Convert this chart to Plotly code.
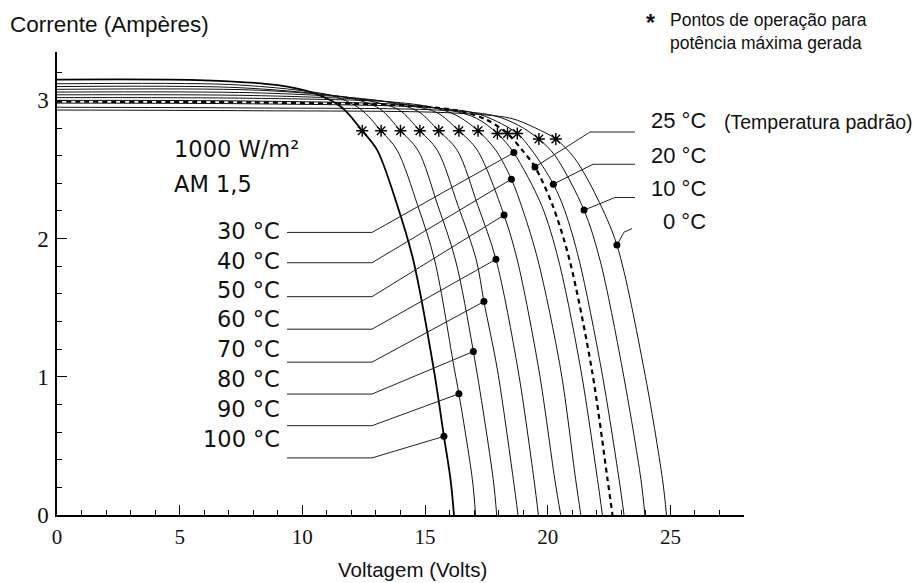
import plotly.graph_objects as go

# ---------------- data ----------------
temps = [100, 90, 80, 70, 60, 50, 40, 30, 25, 20, 10, 0]

V_100 = [0, 6, 9, 10.5, 11.6, 12.44, 13.05, 13.87, 14.52, 15.36, 15.77, 16.04, 16.18]
I_100 = [3.15, 3.145, 3.11, 3.05, 2.95, 2.78, 2.64, 2.24, 1.845, 1.05, 0.569, 0.256, 0]

V_90 = [0, 7, 10, 11.3, 12.35, 13.21, 13.86, 14.70, 15.39, 16.20, 16.38, 16.93, 17.06]
I_90 = [3.12, 3.115, 3.07, 3.03, 2.94, 2.78, 2.64, 2.24, 1.845, 1.05, 0.877, 0.256, 0]

V_80 = [0, 7, 10.5, 12.1, 13.15, 14.0, 14.71, 15.52, 16.24, 16.97, 17.78, 17.92]
I_80 = [3.10, 3.095, 3.05, 3.01, 2.94, 2.78, 2.64, 2.24, 1.845, 1.183, 0.256, 0]

V_70 = [0, 8, 11.5, 12.9, 13.95, 14.79, 15.5, 16.34, 17.09, 17.40, 17.95, 18.60, 18.79]
I_70 = [3.08, 3.075, 3.03, 2.99, 2.93, 2.78, 2.64, 2.24, 1.845, 1.544, 1.05, 0.256, 0]

V_60 = [0, 8, 12, 13.7, 14.72, 15.56, 16.31, 17.15, 17.89, 18.79, 19.44, 19.62]
I_60 = [3.06, 3.055, 3.02, 2.98, 2.92, 2.78, 2.64, 2.24, 1.85, 1.05, 0.256, 0]

V_50 = [0, 8, 13, 14.5, 15.5, 16.38, 17.13, 18.22, 18.76, 19.64, 20.29, 20.53]
I_50 = [3.04, 3.035, 3.0, 2.96, 2.91, 2.78, 2.64, 2.17, 1.845, 1.05, 0.256, 0]

V_40 = [0, 8, 13.5, 15.3, 16.3, 17.16, 17.88, 18.52, 19.0, 19.60, 20.53, 21.14, 21.35]
I_40 = [3.02, 3.015, 2.99, 2.95, 2.89, 2.78, 2.64, 2.43, 2.2, 1.845, 1.05, 0.256, 0]

V_30 = [0, 8, 14, 16, 17.1, 17.95, 18.62, 19.75, 20.44, 21.35, 22.03, 22.23]
I_30 = [3.00, 2.995, 2.97, 2.93, 2.87, 2.76, 2.62, 2.24, 1.845, 1.05, 0.256, 0]

V_25 = [0, 8, 14.5, 16.5, 17.5, 18.36, 18.96, 19.48, 20.2, 20.89, 21.80, 22.44, 22.64]
I_25 = [2.99, 2.985, 2.96, 2.92, 2.86, 2.76, 2.64, 2.518, 2.24, 1.845, 1.05, 0.256, 0]

V_20 = [0, 8, 15, 17, 17.9, 18.76, 19.35, 20.23, 20.7, 21.28, 22.19, 22.91, 23.11]
I_20 = [2.98, 2.975, 2.95, 2.91, 2.85, 2.76, 2.64, 2.394, 2.2, 1.845, 1.05, 0.256, 0]

V_10 = [0, 8, 15.5, 17.8, 18.8, 19.64, 20.3, 21.48, 22.13, 23.05, 23.80, 23.96]
I_10 = [2.95, 2.945, 2.93, 2.89, 2.82, 2.72, 2.60, 2.206, 1.845, 1.05, 0.256, 0]

V_0 = [0, 8, 16, 18.5, 19.5, 20.33, 21.1, 22.0, 22.82, 23.93, 24.68, 24.84]
I_0 = [2.93, 2.925, 2.91, 2.87, 2.80, 2.72, 2.58, 2.30, 1.953, 1.05, 0.256, 0]

# maximum power points (asterisks), order = temps
star_V = [12.44, 13.21, 14.00, 14.79, 15.56, 16.38, 17.16, 17.95, 18.36, 18.76, 19.64, 20.33]
star_I = [2.78, 2.78, 2.78, 2.78, 2.78, 2.78, 2.78, 2.76, 2.76, 2.76, 2.72, 2.72]

# label dots on each curve, order = temps
dot_V = [15.77, 16.38, 16.97, 17.40, 17.89, 18.22, 18.52, 18.62, 19.48, 20.23, 21.48, 22.82]
dot_I = [0.569, 0.877, 1.183, 1.544, 1.85, 2.17, 2.43, 2.622, 2.518, 2.394, 2.206, 1.953]

curve_V = [V_100, V_90, V_80, V_70, V_60, V_50, V_40, V_30, V_25, V_20, V_10, V_0]
curve_I = [I_100, I_90, I_80, I_70, I_60, I_50, I_40, I_30, I_25, I_20, I_10, I_0]

x_tick_vals = [0, 5, 10, 15, 20, 25]
y_tick_vals = [0, 1, 2, 3]

# ---------------- layout geometry (pixels) ----------------
W, H = 920, 583
ML, MR, MT, MB = 57, 176, 51.5, 67.5
X_RANGE = [0, 28]
Y_RANGE = [0, 3.35]
PW = W - ML - MR
PH = H - MT - MB


def px_v(px):
    return X_RANGE[0] + (px - ML) / PW * (X_RANGE[1] - X_RANGE[0])


def py_i(py):
    return Y_RANGE[0] + (H - MB - py) / PH * (Y_RANGE[1] - Y_RANGE[0])


def px_p(px):
    return (px - ML) / PW


def py_p(py):
    return (H - MB - py) / PH


fig = go.Figure()

for t, vv, ii in zip(temps, curve_V, curve_I):
    if t == 25:
        line = dict(color="black", width=2.2, dash="5px,4px")
    elif t == 100:
        line = dict(color="black", width=1.8)
    else:
        line = dict(color="#111", width=1.0)
    fig.add_trace(go.Scatter(x=vv, y=ii, mode="lines", line=line, line_shape="spline",
                             line_smoothing=0.9, hoverinfo="skip", showlegend=False))

# ---- leader lines: left labels (30..100 °C) ----
left_temps = [30, 40, 50, 60, 70, 80, 90, 100]
left_line_py = [232.3, 262.7, 296.7, 329.3, 362.3, 394.3, 426.0, 458.3]
left_text_py = [230.5, 260.5, 290.0, 319.5, 349.0, 379.0, 409.0, 439.0]
for t, lpy in zip(left_temps, left_line_py):
    k = temps.index(t)
    xs = [px_v(287), px_v(372), dot_V[k]]
    ys = [py_i(lpy), py_i(lpy), dot_I[k]]
    fig.add_trace(go.Scatter(x=xs, y=ys, mode="lines", line=dict(color="#222", width=1.0),
                             hoverinfo="skip", showlegend=False))

# ---- leader lines: right labels (25, 20, 10, 0 °C) ----
right_temps = [25, 20, 10, 0]
right_line_px = [[635, 590], [635, 593], [635, 615], [632, 624]]
right_line_py = [[131.7, 131.7], [164.0, 164.0], [197.3, 197.3], [228.5, 232.0]]
right_text_py = [120.0, 155.0, 188.0, 221.0]
for t, lpx, lpy in zip(right_temps, right_line_px, right_line_py):
    k = temps.index(t)
    xs = [px_v(lpx[0]), px_v(lpx[1]), dot_V[k]]
    ys = [py_i(lpy[0]), py_i(lpy[1]), dot_I[k]]
    fig.add_trace(go.Scatter(x=xs, y=ys, mode="lines", line=dict(color="#222", width=1.0),
                             hoverinfo="skip", showlegend=False))

# dots
fig.add_trace(go.Scatter(x=dot_V, y=dot_I, mode="markers",
                         marker=dict(symbol="circle", size=7, color="black"),
                         hoverinfo="skip", showlegend=False))
# asterisks
fig.add_trace(go.Scatter(x=star_V, y=star_I, mode="markers",
                         marker=dict(symbol="asterisk-open", size=10, color="black",
                                     line=dict(color="black", width=1.4)),
                         hoverinfo="skip", showlegend=False))

ann = []
GOTHIC = "DejaVu Sans"
SANS = "Liberation Sans"


def add_text(px, py, text, size, family=SANS, xanchor="left", **kw):
    ann.append(dict(x=px_p(px), y=py_p(py), xref="paper", yref="paper", text=text,
                    showarrow=False, xanchor=xanchor, yanchor="middle",
                    font=dict(family=family, size=size, color="#111"), **kw))


for t, tpy in zip(left_temps, left_text_py):
    add_text(282, tpy, f"{t} °C", 22.5, GOTHIC, "right")

for t, tpy in zip(right_temps, right_text_py):
    add_text(708, tpy, f"{t} °C", 22, SANS, "right")
add_text(722, 121.5, "(Temperatura padrão)", 19.5)

add_text(172, 149, "1000 W/m²", 22.5, GOTHIC)
add_text(172, 184, "AM 1,5", 22.5, GOTHIC)

add_text(8, 24, "Corrente (Ampères)", 22.5)
add_text(413, 570, "Voltagem (Volts)", 20.5, SANS, "center")

add_text(650, 22, "<b>*</b>", 23, SANS, "center")
add_text(668, 31, "Pontos de operação para<br>potência máxima gerada", 17.5, SANS, "left",
         align="left")

fig.update_layout(
    width=W, height=H,
    margin=dict(l=ML, r=MR, t=MT, b=MB, pad=0),
    paper_bgcolor="white", plot_bgcolor="white",
    showlegend=False,
    annotations=ann,
    xaxis=dict(range=X_RANGE, showgrid=False, zeroline=False, showline=True,
               linecolor="black", linewidth=1.5, ticks="inside", ticklen=10,
               tickwidth=1.2, tickcolor="black", tickvals=x_tick_vals,
               ticktext=[str(v) for v in x_tick_vals],
               tickfont=dict(family="Liberation Serif", size=21, color="#111"),
               minor=dict(dtick=1, ticks="inside", ticklen=5, tickcolor="black", tickwidth=1),
               ticklabelstandoff=2),
    yaxis=dict(range=Y_RANGE, showgrid=False, zeroline=False, showline=True,
               linecolor="black", linewidth=1.5, ticks="inside", ticklen=10,
               tickwidth=1.2, tickcolor="black", tickvals=y_tick_vals,
               ticktext=[str(v) for v in y_tick_vals],
               tickfont=dict(family="Liberation Serif", size=23, color="#111"),
               minor=dict(dtick=0.2, ticks="inside", ticklen=5, tickcolor="black", tickwidth=1),
               ticklabelstandoff=2),
)

fig.write_html("out.html")
